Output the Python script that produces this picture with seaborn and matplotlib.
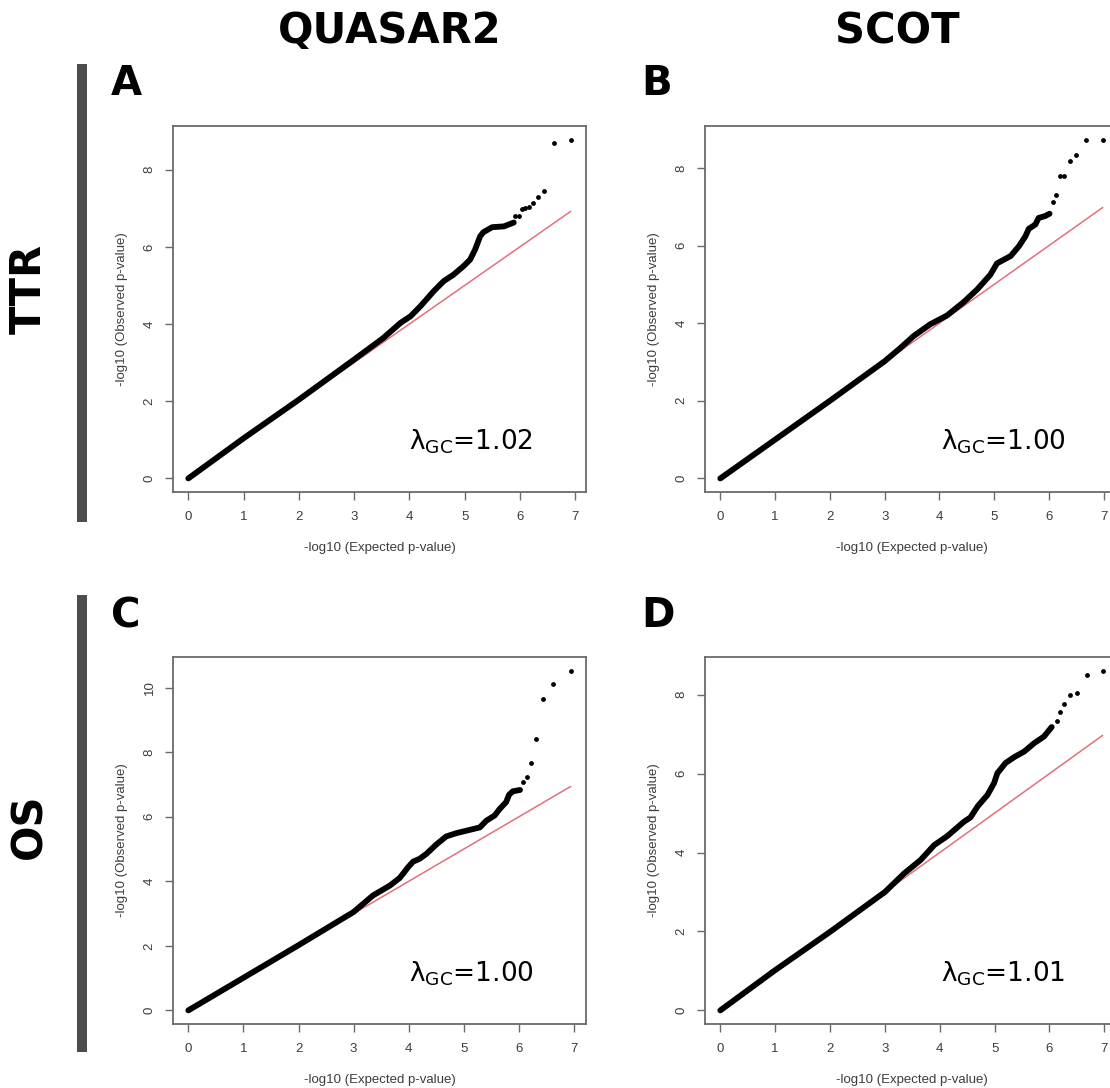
import matplotlib
matplotlib.use("Agg")
import matplotlib.pyplot as plt
from matplotlib.patches import Rectangle
import seaborn as sns
import pandas as pd

# ---------------- data ----------------
col_titles = ["QUASAR2", "SCOT"]
row_titles = ["TTR", "OS"]
panel_letters = ["A", "B", "C", "D"]
lambda_values = ["1.02", "1.00", "1.00", "1.01"]

# Panel A (QUASAR2, TTR)
a_dense_x = [0, 1.0, 2.0, 3.0, 3.53, 3.84, 4.02, 4.2, 4.44, 4.62, 4.8, 4.98, 5.1, 5.19, 5.28, 5.34, 5.5, 5.71, 5.89]
a_dense_y = [0, 1.04, 2.04, 3.08, 3.64, 4.03, 4.2, 4.46, 4.85, 5.11, 5.28, 5.5, 5.67, 5.93, 6.27, 6.38, 6.51, 6.53, 6.63]
a_tail_x = [5.92, 5.98, 6.04, 6.1, 6.16, 6.23, 6.32, 6.44, 6.61, 6.92]
a_tail_y = [6.81, 6.81, 6.98, 7.0, 7.03, 7.14, 7.29, 7.44, 8.70, 8.78]

# Panel B (SCOT, TTR)
b_dense_x = [0, 1.0, 2.0, 3.0, 3.27, 3.53, 3.83, 4.14, 4.44, 4.69, 4.93, 5.05, 5.3, 5.45, 5.57, 5.63, 5.75, 5.81, 5.93, 6.01]
b_dense_y = [0, 1.0, 2.0, 3.02, 3.34, 3.67, 3.97, 4.2, 4.54, 4.87, 5.25, 5.54, 5.73, 5.98, 6.24, 6.43, 6.54, 6.71, 6.76, 6.82]
b_tail_x = [6.07, 6.13, 6.2, 6.28, 6.38, 6.5, 6.68, 6.98]
b_tail_y = [7.12, 7.31, 7.79, 7.79, 8.17, 8.32, 8.71, 8.73]

# Panel C (QUASAR2, OS)
c_dense_x = [0, 1.0, 2.0, 3.0, 3.35, 3.66, 3.84, 3.99, 4.08, 4.2, 4.32, 4.5, 4.68, 4.86, 5.05, 5.29, 5.41, 5.56, 5.65, 5.77, 5.82, 5.89, 6.02]
c_dense_y = [0, 1.01, 2.02, 3.05, 3.56, 3.87, 4.11, 4.44, 4.61, 4.7, 4.85, 5.14, 5.39, 5.49, 5.57, 5.67, 5.88, 6.04, 6.24, 6.46, 6.68, 6.79, 6.83]
c_tail_x = [6.07, 6.14, 6.22, 6.31, 6.44, 6.62, 6.94]
c_tail_y = [7.07, 7.24, 7.66, 8.42, 9.66, 10.13, 10.53]

# Panel D (SCOT, OS)
d_dense_x = [0, 1.0, 2.0, 3.0, 3.35, 3.65, 3.9, 4.14, 4.44, 4.56, 4.69, 4.87, 4.99, 5.05, 5.2, 5.36, 5.54, 5.72, 5.9, 6.04]
d_dense_y = [0, 1.02, 1.99, 3.0, 3.47, 3.81, 4.19, 4.42, 4.78, 4.89, 5.17, 5.46, 5.76, 6.01, 6.27, 6.42, 6.56, 6.77, 6.94, 7.18]
d_tail_x = [6.13, 6.2, 6.27, 6.38, 6.5, 6.68, 6.97]
d_tail_y = [7.34, 7.56, 7.77, 8.0, 8.04, 8.49, 8.61]

y_ticks_A = [0, 2, 4, 6, 8]
y_ticks_B = [0, 2, 4, 6, 8]
y_ticks_C = [0, 2, 4, 6, 8, 10]
y_ticks_D = [0, 2, 4, 6, 8]
x_ticks = [0, 1, 2, 3, 4, 5, 6, 7]

x_label = "-log10 (Expected p-value)"
y_label = "-log10 (Observed p-value)"

panels = [
    (a_dense_x, a_dense_y, a_tail_x, a_tail_y, y_ticks_A),
    (b_dense_x, b_dense_y, b_tail_x, b_tail_y, y_ticks_B),
    (c_dense_x, c_dense_y, c_tail_x, c_tail_y, y_ticks_C),
    (d_dense_x, d_dense_y, d_tail_x, d_tail_y, y_ticks_D),
]

# ---------------- style ----------------
sns.set_style("white")
plt.rcParams["font.family"] = ["DejaVu Sans"]
plt.rcParams["mathtext.fontset"] = "dejavusans"
plt.rcParams["text.color"] = "black"

W, H = 1110, 1088
fig = plt.figure(figsize=(W / 100, H / 100), dpi=100)

# axes rectangles in pixels: left, top, width, height
rects_px = [(173, 126, 413, 366), (705, 126, 413, 366),
            (173, 657, 413, 367), (705, 657, 413, 367)]

tick_font = dict(family=["Liberation Sans", "DejaVu Sans"], size=9.5)
tick_color = "#3c3c3c"
spine_color = "#6a6a6a"
red = "#e2707c"

for i, ((dx, dy, tx, ty, yt), (l, t, w, h)) in enumerate(zip(panels, rects_px)):
    ax = fig.add_axes([l / W, 1 - (t + h) / H, w / W, h / H])
    dense = pd.DataFrame({"exp": dx, "obs": dy})
    tail = pd.DataFrame({"exp": tx, "obs": ty})

    all_x = dx + tx
    all_y = dy + ty
    xmax, ymax = max(all_x), max(all_y)
    ax.set_xlim(-0.04 * xmax, xmax * 1.04)
    ax.set_ylim(-0.04 * ymax, ymax * 1.04)

    # expected diagonal (under the points)
    diag = pd.DataFrame({"exp": [0, xmax], "obs": [0, xmax]})
    sns.lineplot(data=diag, x="exp", y="obs", ax=ax, color=red,
                 linewidth=1.1, zorder=2)
    # dense body of the QQ points
    sns.lineplot(data=dense, x="exp", y="obs", ax=ax, color="black",
                 linewidth=4.2, sort=False, estimator=None,
                 solid_capstyle="round", solid_joinstyle="round", zorder=3)
    # sparse upper tail
    sns.scatterplot(data=tail, x="exp", y="obs", ax=ax, color="black",
                    s=12, linewidth=0, zorder=4)

    ax.set_xticks(x_ticks)
    ax.set_yticks(yt)
    ax.set_xticklabels([str(v) for v in x_ticks], fontdict=tick_font, color=tick_color)
    ax.set_yticklabels([str(v) for v in yt], fontdict=tick_font, color=tick_color,
                       rotation=90, va="center")
    ax.tick_params(axis="both", which="both", direction="out", length=5.5,
                   width=1.0, color=spine_color, left=True, bottom=True)
    ax.tick_params(axis="x", pad=8)
    ax.tick_params(axis="y", pad=7)
    for sp in ax.spines.values():
        sp.set_color(spine_color)
        sp.set_linewidth(1.3)
    ax.set_xlabel(x_label, fontdict=tick_font, color=tick_color, labelpad=14)
    ax.set_ylabel(y_label, fontdict=tick_font, color=tick_color, labelpad=11)

    ax.text(0.572, 0.117, "λ$_{\\mathrm{GC}}$=" + lambda_values[i],
            transform=ax.transAxes, ha="left", va="baseline",
            fontsize=19, family="DejaVu Sans", color="black")

# column titles
for title, cx in zip(col_titles, [389.5, 897]):
    fig.text(cx / W, 1 - 43 / H, title, ha="center", va="baseline",
             fontsize=30, fontweight="bold", family="DejaVu Sans", color="black")

# row titles
for title, cy in zip(row_titles, [289, 826]):
    fig.text(29 / W, 1 - cy / H, title, rotation=90, ha="center", va="center",
             fontsize=30, fontweight="bold", family="DejaVu Sans", color="black")

# row bars
for top, bot in [(64, 522), (595, 1052)]:
    fig.add_artist(Rectangle((77 / W, 1 - bot / H), 10 / W, (bot - top) / H,
                             transform=fig.transFigure, color="#4d4d4d", lw=0))

# panel letters
letter_pos = [(111, 95), (641, 95), (111, 627), (641, 627)]
for letter, (x, y) in zip(panel_letters, letter_pos):
    fig.text(x / W, 1 - y / H, letter, ha="left", va="baseline",
             fontsize=29, fontweight="bold", family="DejaVu Sans", color="black")

fig.savefig("out.png", dpi=100)
